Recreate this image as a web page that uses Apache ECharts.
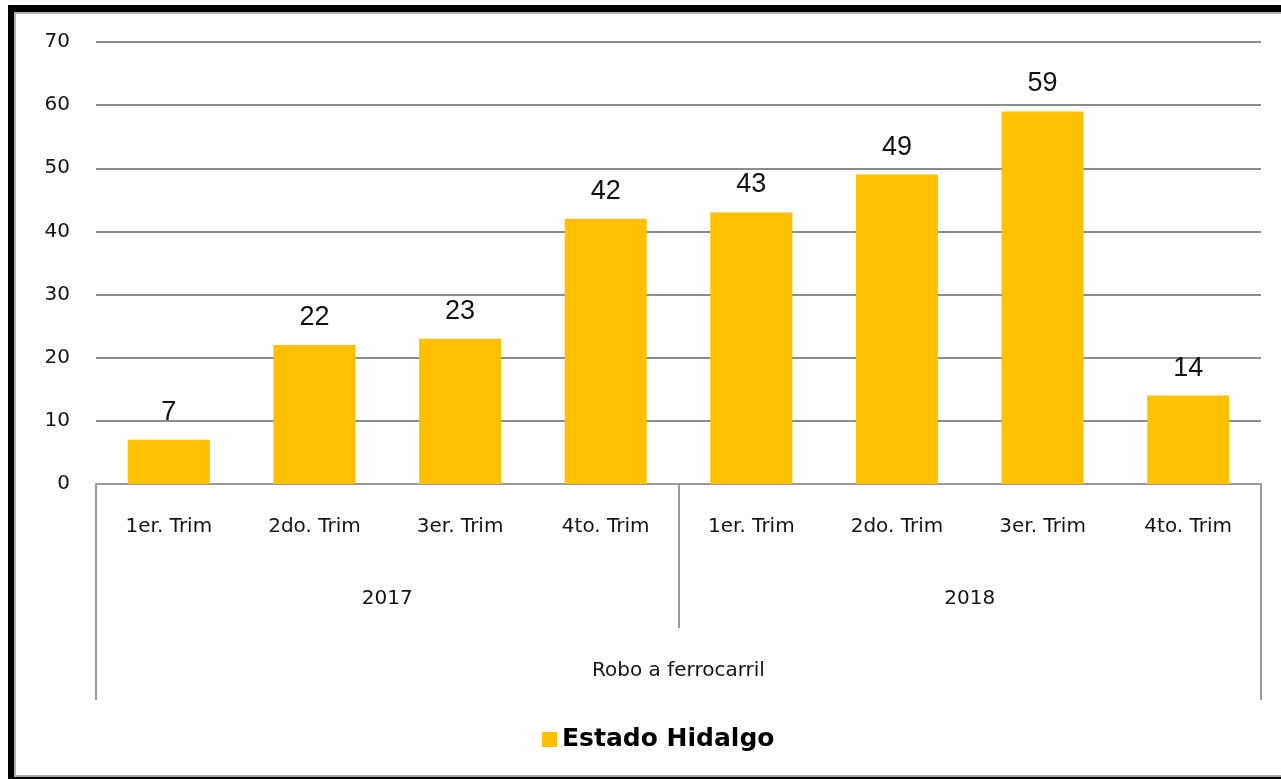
<!DOCTYPE html>
<html>
<head>
<meta charset="utf-8">
<script src="https://cdn.jsdelivr.net/npm/echarts@6/dist/echarts.min.js"></script>
<style>
html,body{margin:0;padding:0;width:1281px;height:779px;overflow:hidden;background:#fff;}
#frameBlack{position:absolute;left:8px;top:5px;width:1300px;height:800px;background:#000;}
#frameInner{position:absolute;left:14px;top:12px;width:1290px;height:761px;background:#fff;border-top:2px solid #b0b0b0;border-left:2px solid #b0b0b0;border-bottom:2px solid #a6a6a6;}
#chart{position:absolute;left:0;top:0;width:1281px;height:779px;}
</style>
</head>
<body>
<div id="frameBlack"></div>
<div id="frameInner"></div>
<div id="chart"></div>
<script>
var quarters = ['1er. Trim','2do. Trim','3er. Trim','4to. Trim','1er. Trim','2do. Trim','3er. Trim','4to. Trim'];
var years = ['2017','2018'];
var groupLabel = ['Robo a ferrocarril'];
var seriesName = 'Estado Hidalgo';
var values = [7,22,23,42,43,49,59,14];
var yTicks = {min:0,max:70,interval:10};

var chart = echarts.init(document.getElementById('chart'), null, {renderer:'canvas'});
var axisGray = '#9a9a9a';
var tickFont = '"DejaVu Sans", sans-serif';
var textColor = '#141414';
chart.setOption({
  backgroundColor:'transparent',
  animation:false,
  grid:{left:96,right:20,top:42,bottom:295,containLabel:false},
  legend:{
    data:[seriesName],
    left:537, top:722,
    icon:'rect', itemWidth:15, itemHeight:15, itemGap:6,
    textStyle:{fontFamily:'"DejaVu Sans", sans-serif',fontWeight:'bold',fontSize:25,color:'#000'}
  },
  xAxis:[
    {type:'category',data:quarters,position:'bottom',
     axisLine:{show:true,lineStyle:{color:axisGray,width:2}},
     axisTick:{show:false},
     axisLabel:{interval:0,margin:33,fontFamily:tickFont,fontSize:20,color:textColor}},
    {type:'category',data:years,position:'bottom',
     axisLine:{show:false},
     axisTick:{show:true,length:144,lineStyle:{color:axisGray,width:2}},
     axisLabel:{interval:0,margin:105,fontFamily:tickFont,fontSize:20,color:textColor}},
    {type:'category',data:groupLabel,position:'bottom',
     axisLine:{show:false},
     axisTick:{show:true,length:216,lineStyle:{color:axisGray,width:2}},
     axisLabel:{interval:0,margin:177,fontFamily:tickFont,fontSize:20,color:textColor}}
  ],
  yAxis:{type:'value',min:yTicks.min,max:yTicks.max,interval:yTicks.interval,
    axisLine:{show:false},axisTick:{show:false},
    axisLabel:{margin:26,fontFamily:tickFont,fontSize:20,color:textColor},
    splitLine:{lineStyle:{color:'#8c8c8c',width:2}}},
  series:[{
    name:seriesName,type:'bar',xAxisIndex:0,data:values,barWidth:82,
    itemStyle:{color:'#FFC000'},
    label:{show:true,position:'top',distance:14,fontFamily:'"Liberation Sans", Arial, sans-serif',fontSize:27,color:'#111'}
  }]
});
</script>
</body>
</html>
